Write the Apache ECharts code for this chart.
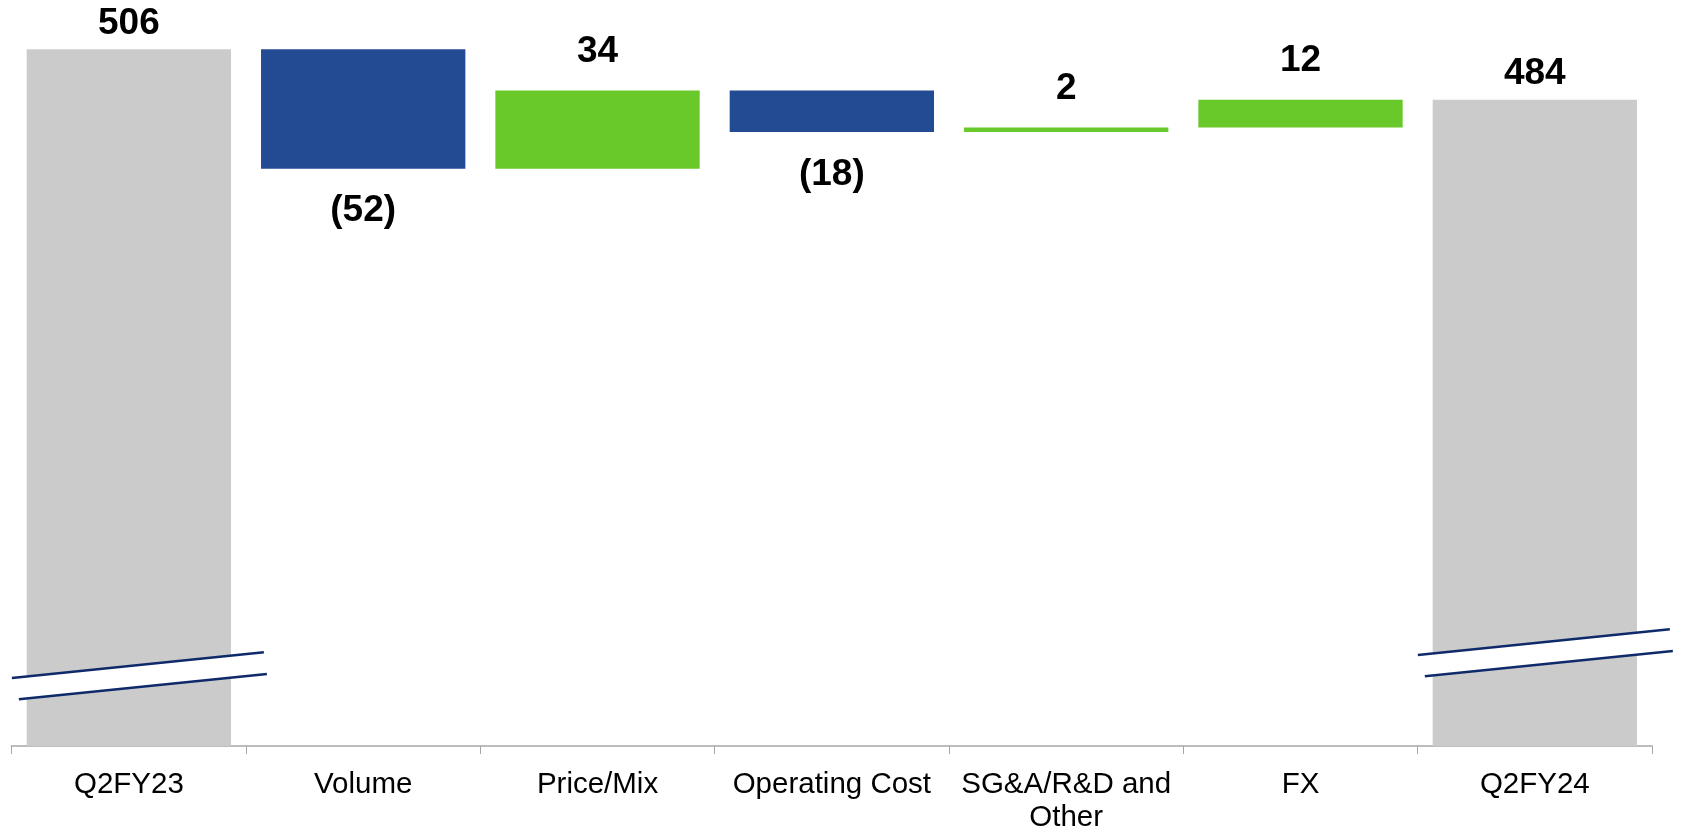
<!DOCTYPE html>
<html>
<head>
<meta charset="utf-8">
<script src="https://cdn.jsdelivr.net/npm/echarts@6/dist/echarts.min.js"></script>
<style>
html,body{margin:0;padding:0;background:#fff;}
#chart{width:1685px;height:834px;}
</style>
</head>
<body>
<div id="chart"></div>
<script>
const categories = ['Q2FY23', 'Volume', 'Price/Mix', 'Operating Cost', 'SG&A/R&D and\nOther', 'FX', 'Q2FY24'];
const startValue = 506;
const changes = [-52, 34, -18, 2, 12];
const endValue = 484;
const breakCategories = [0, 6];
const breakValues = [233, 243];

const GRAY = '#CBCBCB', NAVY = '#234B94', GREEN = '#69C92B', BREAK = '#0F2A6B';
const FONT = 'Liberation Sans, Arial, sans-serif';

const baseData = [0];
const barData = [{
  value: startValue,
  itemStyle: { color: GRAY },
  label: { show: true, position: 'top', distance: 7, formatter: String(startValue) }
}];
let running = startValue;
changes.forEach(c => {
  if (c < 0) {
    baseData.push(running + c);
    barData.push({
      value: -c,
      itemStyle: { color: NAVY },
      label: { show: true, position: 'bottom', distance: 24, formatter: '(' + (-c) + ')' }
    });
  } else {
    baseData.push(running);
    barData.push({
      value: c,
      itemStyle: { color: GREEN },
      label: { show: true, position: 'top', distance: 20, formatter: String(c) }
    });
  }
  running += c;
});
baseData.push(0);
barData.push({
  value: endValue,
  itemStyle: { color: GRAY },
  label: { show: true, position: 'top', distance: 7, formatter: String(endValue) }
});

const breakData = breakCategories.map((c, i) => [c, breakValues[i]]);

const chart = echarts.init(document.getElementById('chart'));
chart.setOption({
  animation: false,
  backgroundColor: '#fff',
  grid: { left: 11.7, right: 33, top: 17, bottom: 84.5, containLabel: false },
  xAxis: {
    type: 'category',
    data: categories,
    axisLine: { show: true, lineStyle: { color: '#BDBDBD', width: 2 } },
    axisTick: { show: true, interval: 0, length: 8, lineStyle: { color: '#A6A6A6', width: 1 } },
    axisLabel: { interval: 0, margin: 22, color: '#000', fontSize: 29.5, fontFamily: FONT, lineHeight: 33 },
    splitLine: { show: false }
  },
  yAxis: {
    type: 'value',
    min: 203,
    max: 520,
    show: false,
    splitLine: { show: false }
  },
  series: [
    {
      type: 'bar',
      stack: 'wf',
      data: baseData,
      itemStyle: { color: 'transparent' },
      barWidth: '87.2%',
      silent: true
    },
    {
      type: 'bar',
      stack: 'wf',
      data: barData,
      barWidth: '87.2%',
      label: { color: '#000', fontSize: 37, fontWeight: 'bold', fontFamily: FONT }
    },
    {
      type: 'custom',
      data: breakData,
      z: 10,
      renderItem: function (params, api) {
        const p = api.coord([api.value(0), api.value(1)]);
        const cx = p[0], cy = p[1];
        const k = -0.102, gap = 11;
        const yU = x => cy - gap + k * (x - cx);
        const yL = x => cy + gap + k * (x - cx);
        const x1 = cx - 117, x2 = cx + 135, x3 = cx - 110, x4 = cx + 138;
        return {
          type: 'group',
          children: [
            {
              type: 'polygon',
              shape: { points: [[x1, yU(x1)], [x2, yU(x2)], [x4, yL(x4)], [x3, yL(x3)]] },
              style: { fill: '#fff' }
            },
            {
              type: 'line',
              shape: { x1: x1, y1: yU(x1), x2: x2, y2: yU(x2) },
              style: { stroke: BREAK, lineWidth: 2.6 }
            },
            {
              type: 'line',
              shape: { x1: x3, y1: yL(x3), x2: x4, y2: yL(x4) },
              style: { stroke: BREAK, lineWidth: 2.6 }
            }
          ]
        };
      }
    }
  ]
});
</script>
</body>
</html>
